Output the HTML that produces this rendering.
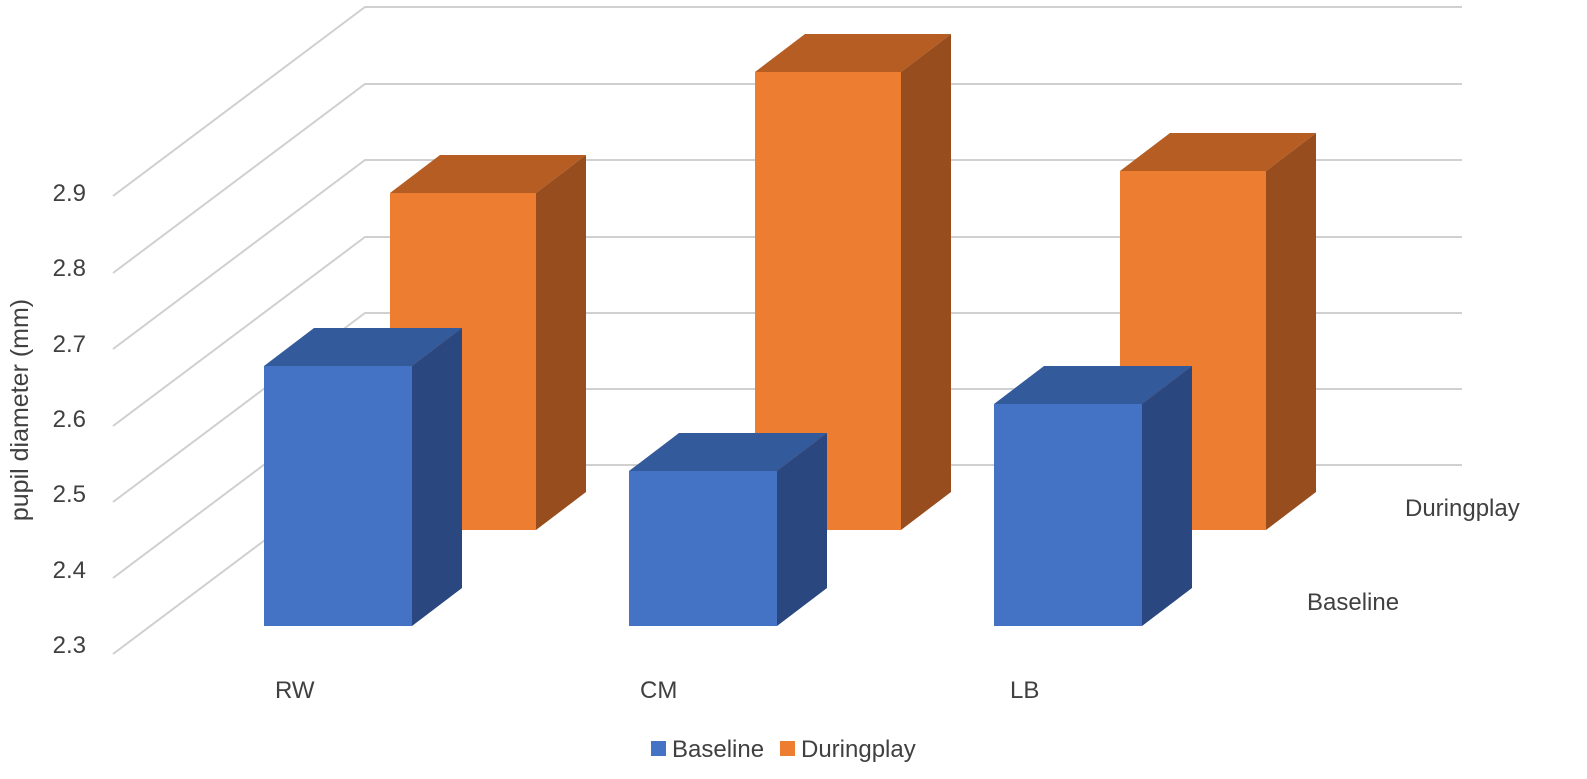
<!DOCTYPE html>
<html><head><style>body{margin:0;background:#fff}svg{display:block}text{font-family:"Liberation Sans",sans-serif;fill:#404040}</style></head>
<body>
<svg width="1587" height="779" viewBox="0 0 1587 779">
<g stroke="#d0d0d0" stroke-width="2" fill="none">
<polyline points="113,654 365,465 1462,465"/>
<polyline points="113,578 365,389 1462,389"/>
<polyline points="113,502 365,313 1462,313"/>
<polyline points="113,426 365,237 1462,237"/>
<polyline points="113,349 365,160 1462,160"/>
<polyline points="113,273 365,84 1462,84"/>
<polyline points="113,196 365,7 1462,7"/>
</g>
<g font-size="24" text-anchor="end">
<text x="86" y="201">2.9</text><text x="86" y="276">2.8</text><text x="86" y="352">2.7</text>
<text x="86" y="427">2.6</text><text x="86" y="502">2.5</text><text x="86" y="578">2.4</text><text x="86" y="653">2.3</text>
</g>
<text transform="translate(28,410) rotate(-90)" font-size="25" text-anchor="middle">pupil diameter (mm)</text>
<g>
<polygon points="390,193 440,155 586,155 536,193" fill="#B55D22"/>
<polygon points="536,193 586,155 586,492 536,530" fill="#984D1E"/>
<rect x="390" y="193" width="146" height="337" fill="#ED7D31"/>
<polygon points="755,72 805,34 951,34 901,72" fill="#B55D22"/>
<polygon points="901,72 951,34 951,492 901,530" fill="#984D1E"/>
<rect x="755" y="72" width="146" height="458" fill="#ED7D31"/>
<polygon points="1120,171 1170,133 1316,133 1266,171" fill="#B55D22"/>
<polygon points="1266,171 1316,133 1316,492 1266,530" fill="#984D1E"/>
<rect x="1120" y="171" width="146" height="359" fill="#ED7D31"/>
</g>
<g>
<polygon points="264,366 314,328 462,328 412,366" fill="#335A9B"/>
<polygon points="412,366 462,328 462,588 412,626" fill="#2A4780"/>
<rect x="264" y="366" width="148" height="260" fill="#4472C4"/>
<polygon points="629,471 679,433 827,433 777,471" fill="#335A9B"/>
<polygon points="777,471 827,433 827,588 777,626" fill="#2A4780"/>
<rect x="629" y="471" width="148" height="155" fill="#4472C4"/>
<polygon points="994,404 1044,366 1192,366 1142,404" fill="#335A9B"/>
<polygon points="1142,404 1192,366 1192,588 1142,626" fill="#2A4780"/>
<rect x="994" y="404" width="148" height="222" fill="#4472C4"/>
</g>
<g font-size="24">
<text x="275" y="698">RW</text><text x="640" y="698">CM</text><text x="1010" y="698">LB</text>
<text x="1405" y="516">Duringplay</text><text x="1307" y="610">Baseline</text>
</g>
<rect x="651" y="741" width="15" height="15" fill="#4472C4"/>
<text x="672" y="757" font-size="24">Baseline</text>
<rect x="780" y="741" width="15" height="15" fill="#ED7D31"/>
<text x="801" y="757" font-size="24">Duringplay</text>
</svg>
</body></html>
